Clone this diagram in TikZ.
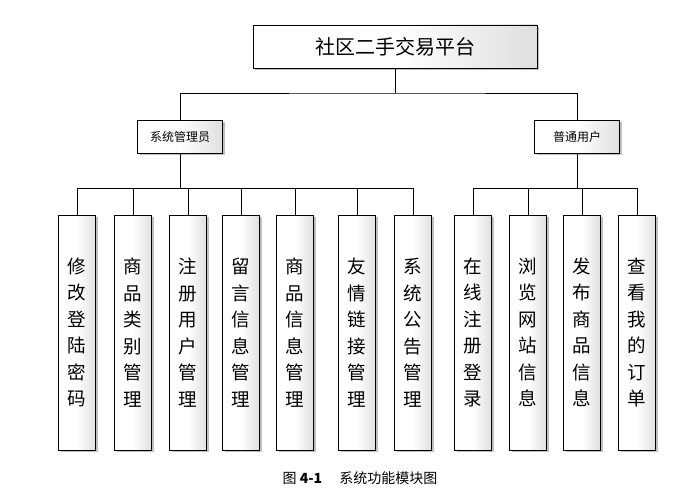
\documentclass[tikz,border=0pt]{standalone}
\usepackage{fontspec}
\newfontfamily\cjk{Noto Sans CJK SC}
\usetikzlibrary{positioning,shadows}
\tikzset{
    box/.style={draw, thin, left color=white, right color=gray!25, middle color=white,
        drop shadow={shadow xshift=2pt, shadow yshift=-2pt, opacity=0.5},
        inner sep=0pt, font=\cjk},
    leaf/.style={box, minimum width=37pt, minimum height=235pt, font=\cjk\fontsize{18.5}{26.5}\selectfont, align=center},
    role/.style={box, minimum width=85pt, minimum height=33pt, font=\cjk\fontsize{12}{14}\selectfont},
    wire/.style={draw, thin}
}
\begin{document}
\begin{tikzpicture}[x=1pt,y=-1pt]
    \useasboundingbox (0,0) rectangle (700,503);
    % top
    \node[box, minimum width=284pt, minimum height=43pt, font=\cjk\fontsize{20}{23}\selectfont] (top) at (395,46.5) {社区二手交易平台};
    \node[role] (admin) at (180,136.5) {系统管理员};
    \node[role] (user) at (577,136.5) {普通用户};
    \coordinate (busT) at (395,93);
    \draw[wire] (top.south) -- (busT);
    \draw[wire] (admin.north) |- (busT) -| (user.north);

    % leaves
    \foreach \x/\n/\t in {77/a1/修\\改\\登\\陆\\密\\码, 133/a2/商\\品\\类\\别\\管\\理,
        188/a3/注\\册\\用\\户\\管\\理, 241/a4/留\\言\\信\\息\\管\\理,
        295/a5/商\\品\\信\\息\\管\\理, 357/a6/友\\情\\链\\接\\管\\理,
        413/a7/系\\统\\公\\告\\管\\理} {
        \node[leaf] (\n) at (\x,332.5) {\t};
        \draw[wire] (\n.north) -- (\x,188);
    }
    \foreach \x/\n/\t in {473/u1/在\\线\\注\\册\\登\\录, 528/u2/浏\\览\\网\\站\\信\\息,
        582/u3/发\\布\\商\\品\\信\\息, 637/u4/查\\看\\我\\的\\订\\单} {
        \node[leaf] (\n) at (\x,332.5) {\t};
        \draw[wire] (\n.north) -- (\x,188);
    }
    \draw[wire] (a1.north |- 0,188) -- (a7.north |- 0,188);
    \draw[wire] (admin.south) -- (180,188);
    \draw[wire] (u1.north |- 0,188) -- (u4.north |- 0,188);
    \draw[wire] (user.south) -- (577,188);

    % caption
    \node[font=\cjk\fontsize{14}{16}\selectfont] (cap) at (360,478) {图 \textbf{4-1}\quad\ 系统功能模块图};
\end{tikzpicture}
\end{document}
